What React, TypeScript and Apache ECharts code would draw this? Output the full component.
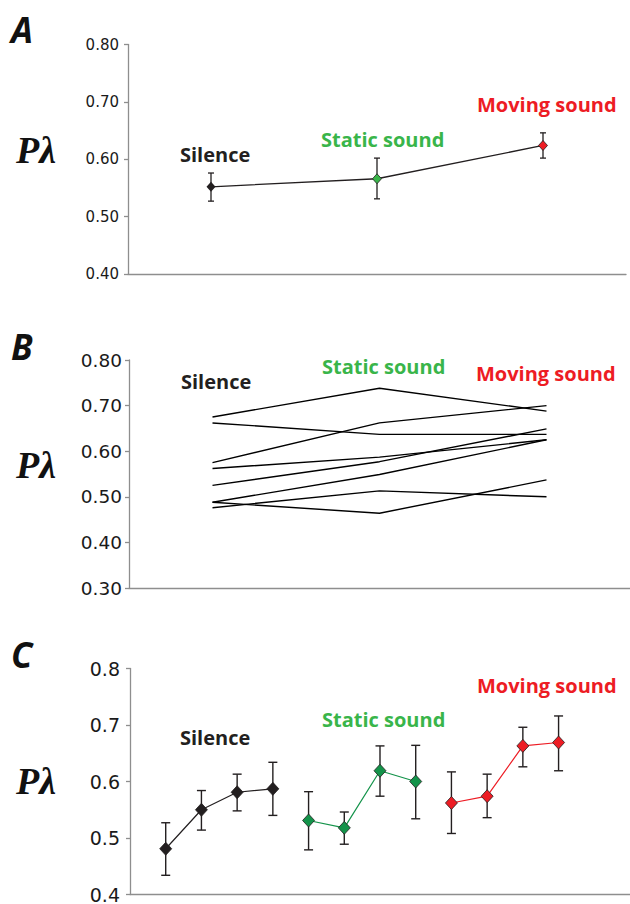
import React, { useEffect, useRef } from "react";
import * as echarts from "echarts";

// ---------- data ----------
const conditions = ["Silence", "Static sound", "Moving sound"];

// Panel A: group means with error bars
const aMean = [0.552, 0.566, 0.624];
const aLow = [0.527, 0.531, 0.602];
const aHigh = [0.576, 0.602, 0.646];

// Panel B: individual subjects (silence, static, moving)
const bS1 = [0.675, 0.738, 0.688];
const bS2 = [0.662, 0.637, 0.637];
const bS3 = [0.575, 0.662, 0.700];
const bS4 = [0.562, 0.587, 0.625];
const bS5 = [0.525, 0.577, 0.649];
const bS6 = [0.488, 0.549, 0.625];
const bS7 = [0.476, 0.513, 0.500];
const bS8 = [0.488, 0.464, 0.537];
const bSubjects = [bS1, bS2, bS3, bS4, bS5, bS6, bS7, bS8];

// Panel C: blocks within each condition
const cSilenceX = [1, 2, 3, 4];
const cSilenceMean = [0.481, 0.550, 0.581, 0.587];
const cSilenceLow = [0.434, 0.514, 0.548, 0.540];
const cSilenceHigh = [0.527, 0.584, 0.613, 0.634];

const cStaticX = [5, 6, 7, 8];
const cStaticMean = [0.531, 0.518, 0.619, 0.600];
const cStaticLow = [0.479, 0.489, 0.574, 0.534];
const cStaticHigh = [0.582, 0.546, 0.663, 0.664];

const cMovingX = [9, 10, 11, 12];
const cMovingMean = [0.562, 0.574, 0.663, 0.669];
const cMovingLow = [0.508, 0.536, 0.626, 0.619];
const cMovingHigh = [0.617, 0.613, 0.696, 0.716];

// ---------- styles ----------
const BLACK = "#231f20";
const GREEN = "#39b54a";
const GREEN_DARK = "#13934a";
const RED = "#ed1c24";
const AXIS = "#8e8e8e";
const LABEL_FONT = "'Open Sans', sans-serif";
const TICK_FONT = "'DejaVu Sans', sans-serif";

function errorBars(idx: number, xs: any[], lows: number[], highs: number[], cap: number, lw: number) {
  return {
    type: "custom",
    xAxisIndex: idx,
    yAxisIndex: idx,
    silent: true,
    z: 1,
    encode: { x: 0, y: [1, 2] },
    data: xs.map((x, i) => [x, lows[i], highs[i]]),
    renderItem: (params: any, api: any) => {
      const x = api.value(0);
      const lo = api.coord([x, api.value(1)]);
      const hi = api.coord([x, api.value(2)]);
      const st = { stroke: BLACK, lineWidth: lw };
      return {
        type: "group",
        children: [
          { type: "line", shape: { x1: lo[0], y1: lo[1], x2: hi[0], y2: hi[1] }, style: st },
          { type: "line", shape: { x1: hi[0] - cap, y1: hi[1], x2: hi[0] + cap, y2: hi[1] }, style: st },
          { type: "line", shape: { x1: lo[0] - cap, y1: lo[1], x2: lo[0] + cap, y2: lo[1] }, style: st },
        ],
      };
    },
  };
}

function yAxis(idx: number, min: number, max: number, digits: number, fontSize: number, margin: number) {
  return {
    type: "value",
    gridIndex: idx,
    min,
    max,
    interval: 0.1,
    splitLine: { show: false },
    axisLine: { show: true, lineStyle: { color: AXIS, width: 1.3 } },
    axisTick: { show: true, length: 4, lineStyle: { color: AXIS, width: 1.3 } },
    axisLabel: {
      margin,
      color: "#1a1a1a",
      fontFamily: TICK_FONT,
      fontSize,
      formatter: (v: number) => v.toFixed(digits),
    },
  };
}

function xCat(idx: number) {
  return {
    type: "category",
    gridIndex: idx,
    data: conditions,
    boundaryGap: true,
    axisLine: { show: true, onZero: false, lineStyle: { color: AXIS, width: 1.3 } },
    axisTick: { show: false },
    axisLabel: { show: false },
  };
}

function label(text: string, x: number, y: number, color: string) {
  return {
    type: "text",
    x,
    y,
    style: {
      text,
      fill: color,
      font: `bold 20px ${LABEL_FONT}`,
      textAlign: "left",
      textVerticalAlign: "middle",
    },
  };
}

function letter(text: string, x: number, y: number) {
  return {
    type: "text",
    x,
    y,
    style: {
      text,
      fill: "#111",
      font: `italic bold 35px 'Open Sans', sans-serif`,
      textAlign: "left",
      textVerticalAlign: "middle",
    },
  };
}

function plambda(x: number, y: number) {
  return {
    type: "text",
    x,
    y,
    style: {
      text: "Pλ",
      fill: "#111",
      font: `italic bold 38px 'Liberation Serif', serif`,
      textAlign: "left",
      textVerticalAlign: "middle",
    },
  };
}

export default function App() {
  const ref = useRef<HTMLDivElement>(null);

  useEffect(() => {
    document.body.style.margin = "0";
    if (!ref.current) return;
    const chart = echarts.init(ref.current, null, { renderer: "svg" });

    const aColors = [BLACK, GREEN, RED];

    const series: any[] = [];

    // Panel A
    series.push(errorBars(0, conditions, aLow, aHigh, 3, 1.3));
    series.push({
      type: "line",
      xAxisIndex: 0,
      yAxisIndex: 0,
      symbol: "diamond",
      symbolSize: [9, 10],
      lineStyle: { color: BLACK, width: 1.3 },
      data: aMean.map((v, i) => ({
        value: v,
        itemStyle: { color: aColors[i], borderColor: BLACK, borderWidth: i === 0 ? 0 : 0.8 },
      })),
      z: 3,
    });

    // Panel B
    bSubjects.forEach((s) => {
      series.push({
        type: "line",
        xAxisIndex: 1,
        yAxisIndex: 1,
        symbol: "none",
        lineStyle: { color: "#000", width: 1.4 },
        data: s,
      });
    });

    // Panel C
    const cGroups = [
      { x: cSilenceX, m: cSilenceMean, lo: cSilenceLow, hi: cSilenceHigh, fill: BLACK, line: BLACK },
      { x: cStaticX, m: cStaticMean, lo: cStaticLow, hi: cStaticHigh, fill: GREEN_DARK, line: GREEN_DARK },
      { x: cMovingX, m: cMovingMean, lo: cMovingLow, hi: cMovingHigh, fill: RED, line: RED },
    ];
    cGroups.forEach((g) => {
      series.push(errorBars(2, g.x, g.lo, g.hi, 4.5, 1.4));
      series.push({
        type: "line",
        xAxisIndex: 2,
        yAxisIndex: 2,
        symbol: "diamond",
        symbolSize: [12, 13],
        lineStyle: { color: g.line, width: 1.2 },
        itemStyle: { color: g.fill, borderColor: BLACK, borderWidth: 0.8 },
        data: g.x.map((x, i) => [x, g.m[i]]),
        z: 3,
      });
    });

    chart.setOption({
      animation: false,
      backgroundColor: "#ffffff",
      grid: [
        { left: 128, top: 44.5, width: 498, height: 229.5 },
        { left: 129, top: 360, width: 504, height: 228 },
        { left: 130, top: 668.5, width: 502, height: 230.5 },
      ],
      xAxis: [
        xCat(0),
        xCat(1),
        {
          type: "value",
          gridIndex: 2,
          min: 0,
          max: 14,
          splitLine: { show: false },
          axisLine: { show: true, onZero: false, lineStyle: { color: AXIS, width: 1.3 } },
          axisTick: { show: false },
          axisLabel: { show: false },
        },
      ],
      yAxis: [
        yAxis(0, 0.4, 0.8, 2, 15, 9),
        yAxis(1, 0.3, 0.8, 2, 18.5, 7),
        yAxis(2, 0.4, 0.8, 1, 19, 10),
      ],
      series,
      graphic: [
        letter("A", 11, 29),
        letter("B", 11, 346),
        letter("C", 11, 654),
        plambda(16, 150),
        plambda(16, 465),
        plambda(16, 781),
        label(conditions[0], 180, 154, BLACK),
        label(conditions[1], 321, 139, GREEN),
        label(conditions[2], 477, 104.5, RED),
        label(conditions[0], 181, 381.5, BLACK),
        label(conditions[1], 322, 366, GREEN),
        label(conditions[2], 476, 373, RED),
        label(conditions[0], 180, 737, BLACK),
        label(conditions[1], 322, 719, GREEN),
        label(conditions[2], 477, 685.5, RED),
      ],
    });

    return () => chart.dispose();
  }, []);

  return (
    <div
      ref={ref}
      style={{ position: "absolute", left: 0, top: 0, width: 630, height: 904 }}
    />
  );
}
